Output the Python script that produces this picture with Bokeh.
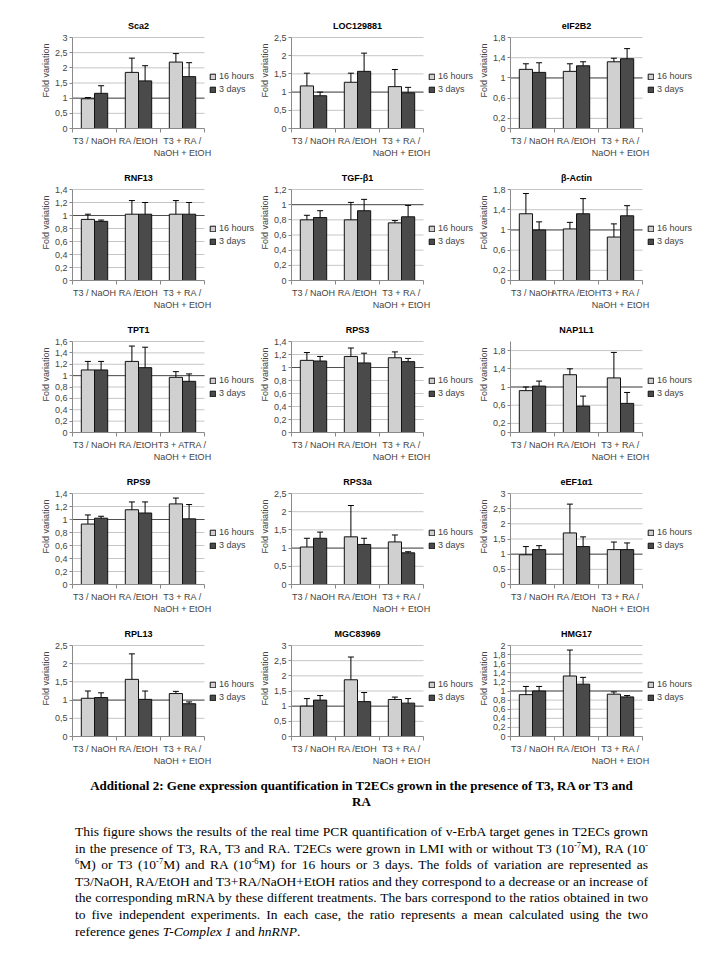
from bokeh.plotting import figure
from bokeh.models import (ColumnDataSource, Whisker, TeeHead, FixedTicker, Label,
                          CustomJSTickFormatter, Legend, LegendItem, Div, Range1d, Spacer)
from bokeh.layouts import row, column
from bokeh.embed import file_html
from bokeh.resources import INLINE

# ---------------- data ----------------
cats_std = ["T3 / NaOH", "RA /EtOH", "T3 + RA /\nNaOH + EtOH"]
cats_actin = ["T3 / NaOH", "ATRA /EtOH", "T3 + RA /\nNaOH + EtOH"]
cats_tpt1 = ["T3 / NaOH", "RA /EtOH", "T3 + ATRA /\nNaOH + EtOH"]
series = ["16 hours", "3 days"]

ticks_05_3 = [0, 0.5, 1, 1.5, 2, 2.5, 3]
ticks_05_25 = [0, 0.5, 1, 1.5, 2, 2.5]
ticks_04 = [0, 0.2, 0.6, 1, 1.4, 1.8]
ticks_02_14 = [0, 0.2, 0.4, 0.6, 0.8, 1, 1.2, 1.4]
ticks_02_12 = [0, 0.2, 0.4, 0.6, 0.8, 1, 1.2]
ticks_02_16 = [0, 0.2, 0.4, 0.6, 0.8, 1, 1.2, 1.4, 1.6]
ticks_02_2 = [0, 0.2, 0.4, 0.6, 0.8, 1, 1.2, 1.4, 1.6, 1.8, 2]

sca2_16h = [0.98, 1.85, 2.19];  sca2_16h_lo = [0.95, 1.38, 1.93];  sca2_16h_hi = [1.02, 2.32, 2.47]
sca2_3d = [1.16, 1.57, 1.71];   sca2_3d_lo = [0.92, 1.07, 1.25];   sca2_3d_hi = [1.41, 2.07, 2.17]

loc_16h = [1.17, 1.27, 1.15];   loc_16h_lo = [0.82, 1.02, 0.68];   loc_16h_hi = [1.52, 1.52, 1.62]
loc_3d = [0.90, 1.57, 0.98];    loc_3d_lo = [0.80, 1.07, 0.84];    loc_3d_hi = [1.00, 2.07, 1.13]

eif_16h = [1.17, 1.13, 1.32];   eif_16h_lo = [1.05, 0.98, 1.26];   eif_16h_hi = [1.28, 1.28, 1.39]
eif_3d = [1.11, 1.24, 1.38];    eif_3d_lo = [0.92, 1.17, 1.18];    eif_3d_hi = [1.30, 1.32, 1.58]

rnf_16h = [0.94, 1.02, 1.02];   rnf_16h_lo = [0.86, 0.80, 0.80];   rnf_16h_hi = [1.02, 1.23, 1.23]
rnf_3d = [0.91, 1.02, 1.02];    rnf_3d_lo = [0.89, 0.83, 0.83];    rnf_3d_hi = [0.93, 1.20, 1.20]

tgf_16h = [0.80, 0.80, 0.76];   tgf_16h_lo = [0.74, 0.56, 0.74];   tgf_16h_hi = [0.86, 1.03, 0.79]
tgf_3d = [0.83, 0.92, 0.84];    tgf_3d_lo = [0.74, 0.77, 0.69];    tgf_3d_hi = [0.92, 1.07, 0.99]

act_16h = [1.32, 1.02, 0.86];   act_16h_lo = [0.93, 0.90, 0.62];   act_16h_hi = [1.72, 1.15, 1.12]
act_3d = [1.00, 1.32, 1.28];    act_3d_lo = [0.84, 1.02, 1.08];    act_3d_hi = [1.16, 1.62, 1.48]

tpt_16h = [1.10, 1.25, 0.97];   tpt_16h_lo = [0.95, 0.97, 0.87];   tpt_16h_hi = [1.25, 1.52, 1.07]
tpt_3d = [1.10, 1.14, 0.90];    tpt_3d_lo = [0.95, 0.78, 0.80];    tpt_3d_hi = [1.25, 1.50, 1.03]

rps3_16h = [1.11, 1.17, 1.15];  rps3_16h_lo = [0.99, 1.03, 1.06];  rps3_16h_hi = [1.23, 1.30, 1.24]
rps3_3d = [1.10, 1.07, 1.09];   rps3_3d_lo = [1.03, 0.91, 1.04];   rps3_3d_hi = [1.17, 1.22, 1.14]

nap_16h = [0.92, 1.27, 1.20];   nap_16h_lo = [0.85, 1.16, 0.64];   nap_16h_hi = [1.00, 1.40, 1.76]
nap_3d = [1.02, 0.58, 0.64];    nap_3d_lo = [0.91, 0.36, 0.42];    nap_3d_hi = [1.13, 0.80, 0.88]

rps9_16h = [0.93, 1.15, 1.24];  rps9_16h_lo = [0.78, 1.04, 1.16];  rps9_16h_hi = [1.07, 1.27, 1.33]
rps9_3d = [1.02, 1.10, 1.01];   rps9_3d_lo = [1.00, 0.94, 0.79];   rps9_3d_hi = [1.05, 1.27, 1.23]

rps3a_16h = [1.03, 1.31, 1.17]; rps3a_16h_lo = [0.79, 0.45, 0.98]; rps3a_16h_hi = [1.27, 2.17, 1.36]
rps3a_3d = [1.27, 1.10, 0.87];  rps3a_3d_lo = [1.10, 0.92, 0.85];  rps3a_3d_hi = [1.44, 1.27, 0.90]

eef_16h = [0.98, 1.70, 1.15];   eef_16h_lo = [0.70, 0.75, 0.93];   eef_16h_hi = [1.25, 2.65, 1.40]
eef_3d = [1.15, 1.25, 1.15];    eef_3d_lo = [1.02, 0.93, 0.95];    eef_3d_hi = [1.28, 1.57, 1.37]

rpl_16h = [1.05, 1.57, 1.18];   rpl_16h_lo = [0.85, 0.90, 1.12];   rpl_16h_hi = [1.25, 2.27, 1.24]
rpl_3d = [1.07, 1.02, 0.90];    rpl_3d_lo = [0.95, 0.80, 0.82];    rpl_3d_hi = [1.20, 1.25, 0.95]

mgc_16h = [1.00, 1.87, 1.22];   mgc_16h_lo = [0.80, 1.25, 1.15];   mgc_16h_hi = [1.25, 2.62, 1.30]
mgc_3d = [1.20, 1.15, 1.10];    mgc_3d_lo = [1.05, 0.85, 0.95];    mgc_3d_hi = [1.35, 1.45, 1.25]

hmg_16h = [0.92, 1.33, 0.93];   hmg_16h_lo = [0.75, 0.85, 0.88];   hmg_16h_hi = [1.10, 1.90, 0.98]
hmg_3d = [1.00, 1.15, 0.87];    hmg_3d_lo = [0.93, 0.97, 0.83];    hmg_3d_hi = [1.10, 1.30, 0.90]

panels = [
    ("Sca2", cats_std, 3.0, ticks_05_3, sca2_16h, sca2_16h_lo, sca2_16h_hi, sca2_3d, sca2_3d_lo, sca2_3d_hi),
    ("LOC129881", cats_std, 2.5, ticks_05_25, loc_16h, loc_16h_lo, loc_16h_hi, loc_3d, loc_3d_lo, loc_3d_hi),
    ("eIF2B2", cats_std, 1.8, ticks_04, eif_16h, eif_16h_lo, eif_16h_hi, eif_3d, eif_3d_lo, eif_3d_hi),
    ("RNF13", cats_std, 1.4, ticks_02_14, rnf_16h, rnf_16h_lo, rnf_16h_hi, rnf_3d, rnf_3d_lo, rnf_3d_hi),
    ("TGF-β1", cats_std, 1.2, ticks_02_12, tgf_16h, tgf_16h_lo, tgf_16h_hi, tgf_3d, tgf_3d_lo, tgf_3d_hi),
    ("β-Actin", cats_actin, 1.8, ticks_04, act_16h, act_16h_lo, act_16h_hi, act_3d, act_3d_lo, act_3d_hi),
    ("TPT1", cats_tpt1, 1.6, ticks_02_16, tpt_16h, tpt_16h_lo, tpt_16h_hi, tpt_3d, tpt_3d_lo, tpt_3d_hi),
    ("RPS3", cats_std, 1.4, ticks_02_14, rps3_16h, rps3_16h_lo, rps3_16h_hi, rps3_3d, rps3_3d_lo, rps3_3d_hi),
    ("NAP1L1", cats_std, 2.0, ticks_04, nap_16h, nap_16h_lo, nap_16h_hi, nap_3d, nap_3d_lo, nap_3d_hi),
    ("RPS9", cats_std, 1.4, ticks_02_14, rps9_16h, rps9_16h_lo, rps9_16h_hi, rps9_3d, rps9_3d_lo, rps9_3d_hi),
    ("RPS3a", cats_std, 2.5, ticks_05_25, rps3a_16h, rps3a_16h_lo, rps3a_16h_hi, rps3a_3d, rps3a_3d_lo, rps3a_3d_hi),
    ("eEF1α1", cats_std, 3.0, ticks_05_3, eef_16h, eef_16h_lo, eef_16h_hi, eef_3d, eef_3d_lo, eef_3d_hi),
    ("RPL13", cats_std, 2.5, ticks_05_25, rpl_16h, rpl_16h_lo, rpl_16h_hi, rpl_3d, rpl_3d_lo, rpl_3d_hi),
    ("MGC83969", cats_std, 3.0, ticks_05_3, mgc_16h, mgc_16h_lo, mgc_16h_hi, mgc_3d, mgc_3d_lo, mgc_3d_hi),
    ("HMG17", cats_std, 2.0, ticks_02_2, hmg_16h, hmg_16h_lo, hmg_16h_hi, hmg_3d, hmg_3d_lo, hmg_3d_hi),
]

SUP = '<sup style="font-size:8.5px;line-height:0;">'
caption_title = ("Additional 2: Gene expression quantification in T2ECs grown in the presence "
                 "of T3, RA or T3 and RA")
caption_body = ("This figure shows the results of the real time PCR quantification of v-ErbA target "
                "genes in T2ECs grown in the presence of T3, RA, T3 and RA. T2ECs were grown in LMI "
                "with or without T3 (10" + SUP + "-7</sup>M), RA (10" + SUP + "-&#8203;6</sup>M) "
                "or T3 (10" + SUP + "-7</sup>M) and RA (10" + SUP + "-6</sup>M) for 16 "
                "hours or 3 days. The folds of variation are "
                "represented as T3/NaOH, RA/EtOH and T3+RA/NaOH+EtOH ratios and they correspond to a "
                "decrease or an increase of the corresponding mRNA by these different treatments. "
                "The bars correspond to the ratios obtained in two to five independent experiments. "
                "In each case, the ratio represents a mean calculated using the two reference genes "
                "<i>T-Complex 1</i> and <i>hnRNP</i>.")

# ---------------- styling ----------------
FONT = "Liberation Sans"
LIGHT = "#d0d0d0"
DARK = "#4a4a4a"
AXIS = "#8a8a8a"
GRID = "#c6c6c6"
BW = 0.3
FW, FH = 132, 91                  # data area of each panel
RIGHT, TOP, BOTTOM = 52, 25, 36   # legend strip, title strip, label strip
XMIN, XMAX = -0.5, 2.5


def make_panel(title, cats, ymax, yticks, v16, lo16, hi16, v3, lo3, hi3, first_col):
    left = 72 if first_col else 28
    # the frame also holds the legend strip (right) and the title strip (top)
    x_end = XMAX + (XMAX - XMIN) * RIGHT / FW
    y_end = ymax * (FH + TOP) / FH
    p = figure(width=left + FW + RIGHT, height=TOP + FH + BOTTOM,
               frame_width=FW + RIGHT, frame_height=FH + TOP,
               x_range=Range1d(XMIN, x_end), y_range=Range1d(0, y_end),
               output_backend="svg", toolbar_location=None,
               min_border_left=left, min_border_right=0,
               min_border_top=0, min_border_bottom=BOTTOM)
    p.outline_line_color = None
    p.background_fill_color = "white"
    p.border_fill_color = "white"

    # panel title, centred over the data area
    p.add_layout(Label(x=(XMIN + XMAX) / 2, y=FH + 12, x_units="data", y_units="screen",
                       text=title, text_align="center", text_baseline="middle",
                       text_font=FONT, text_font_size="9px", text_font_style="bold",
                       text_color="black"))

    idx = list(range(len(cats)))
    src = ColumnDataSource(dict(
        x16=[i - BW / 2 for i in idx], x3=[i + BW / 2 for i in idx],
        v16=v16, lo16=lo16, hi16=hi16, v3=v3, lo3=lo3, hi3=hi3))

    # horizontal grid lines limited to the data area, darker reference line at 1
    grid_src = ColumnDataSource(dict(y=yticks, x0=[XMIN] * len(yticks), x1=[XMAX] * len(yticks)))
    p.segment(x0="x0", x1="x1", y0="y", y1="y", source=grid_src,
              line_color=GRID, line_width=1, level="underlay")
    p.segment(x0=[XMIN], x1=[XMAX], y0=[1], y1=[1],
              line_color="#505050", line_width=1, level="underlay")

    r1 = p.vbar(x="x16", top="v16", bottom=0, width=BW, source=src,
                fill_color=LIGHT, line_color="#111111", line_width=1)
    r2 = p.vbar(x="x3", top="v3", bottom=0, width=BW, source=src,
                fill_color=DARK, line_color="#111111", line_width=1)

    for base, lo, hi in (("x16", "lo16", "hi16"), ("x3", "lo3", "hi3")):
        w = Whisker(base=base, lower=lo, upper=hi, source=src, dimension="height",
                    line_color="black", line_width=1,
                    upper_head=TeeHead(size=6, line_color="black", line_width=1),
                    lower_head=TeeHead(size=6, line_color="black", line_width=1))
        p.add_layout(w)

    p.xgrid.visible = False
    p.ygrid.visible = False

    # y axis
    ya = p.yaxis[0]
    ya.bounds = (0, ymax)
    ya.ticker = FixedTicker(ticks=yticks)
    ya.formatter = CustomJSTickFormatter(
        code="return (Math.round(tick*10)/10).toString().replace('.', ',');")
    ya.axis_label = "Fold variation"
    ya.axis_label_text_font = FONT
    ya.axis_label_text_font_size = "9px"
    ya.axis_label_text_font_style = "normal"
    ya.axis_label_standoff = 1
    ya.major_label_text_font = FONT
    ya.major_label_text_font_size = "9px"
    ya.major_label_standoff = 2
    ya.axis_line_color = AXIS
    ya.major_tick_line_color = AXIS
    ya.major_tick_out = 3
    ya.major_tick_in = 0
    ya.minor_tick_out = 0
    ya.minor_tick_in = 0

    # x axis
    xa = p.xaxis[0]
    xa.bounds = (XMIN, XMAX)
    xa.ticker = FixedTicker(ticks=idx, minor_ticks=[XMIN, 0.5, 1.5, XMAX])
    xa.major_label_overrides = {i: c for i, c in zip(idx, cats)}
    xa.major_label_text_font = FONT
    xa.major_label_text_font_size = "9px"
    xa.major_label_standoff = 3
    xa.axis_line_color = AXIS
    xa.major_tick_out = 0
    xa.major_tick_in = 0
    xa.minor_tick_out = 4
    xa.minor_tick_in = 0
    xa.minor_tick_line_color = AXIS

    legend = Legend(items=[LegendItem(label=series[0], renderers=[r1]),
                           LegendItem(label=series[1], renderers=[r2])],
                    location=(FW + 5, FH // 2 - 11), glyph_width=7, glyph_height=7,
                    label_text_font=FONT, label_text_font_size="9px",
                    label_standoff=3, label_height=9, spacing=3, padding=0, margin=0,
                    border_line_color=None, background_fill_alpha=0)
    p.add_layout(legend)
    return p


figs = [make_panel(*pan, first_col=(k % 3 == 0)) for k, pan in enumerate(panels)]
rows = [row(*figs[i:i + 3], spacing=0) for i in range(0, len(figs), 3)]

caption = Div(text=(
    "<div style=\"font-family:'Liberation Serif','Times New Roman',serif;color:#000;"
    "width:573px;margin-left:75px;\">"
    "<div style=\"font-weight:bold;font-size:13px;text-align:center;line-height:15.5px;"
    "margin:6px auto 0 auto;width:548px;\">" + caption_title + "</div>"
    "<div style=\"font-size:13.5px;line-height:16.6px;text-align:justify;margin-top:15px;\">"
    + caption_body + "</div></div>"), width=704, margin=0)

layout = column(Spacer(height=12), *rows, caption, spacing=0)

open("out.html", "w").write(file_html(layout, INLINE))
